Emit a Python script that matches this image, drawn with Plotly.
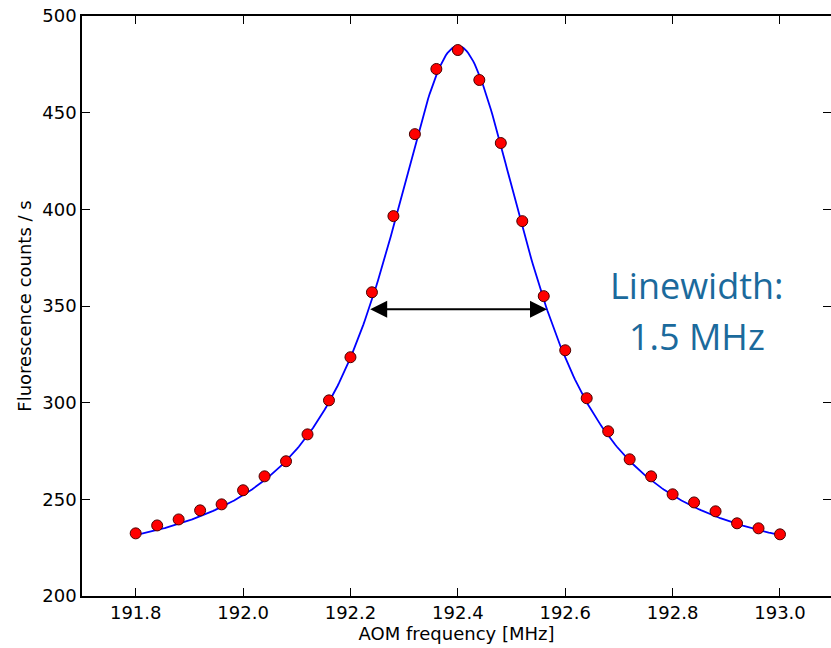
import numpy as np
import plotly.graph_objects as go

# Measured data (AOM frequency in MHz, fluorescence counts / s)
freq_mhz = [191.80, 191.84, 191.88, 191.92, 191.96, 192.00, 192.04, 192.08,
            192.12, 192.16, 192.20, 192.24, 192.28, 192.32, 192.36, 192.40,
            192.44, 192.48, 192.52, 192.56, 192.60, 192.64, 192.68, 192.72,
            192.76, 192.80, 192.84, 192.88, 192.92, 192.96, 193.00]
counts = [232.4, 236.5, 239.6, 244.3, 247.4, 254.7, 261.9, 269.7,
          283.6, 301.2, 323.5, 357.1, 396.5, 438.9, 472.6, 482.4,
          466.9, 434.3, 393.9, 355.1, 327.1, 302.3, 285.2, 270.7,
          261.9, 252.6, 248.4, 243.8, 237.6, 235.0, 231.9]

# Lorentzian fit parameters
fit_center = 192.40
fit_hwhm = 0.166
fit_offset = 212.1
fit_amplitude = 272.4

# FWHM arrow end points
fwhm_left = 192.234
fwhm_right = 192.566
half_max = fit_offset + fit_amplitude / 2

x_ticks = [191.8, 192.0, 192.2, 192.4, 192.6, 192.8, 193.0]
y_ticks = [200, 250, 300, 350, 400, 450, 500]

xfit = np.linspace(min(freq_mhz), max(freq_mhz), 400)
yfit = fit_offset + fit_amplitude / (1 + ((xfit - fit_center) / fit_hwhm) ** 2)

fig = go.Figure()
fig.add_trace(go.Scatter(x=xfit, y=yfit, mode="lines",
                         line=dict(color="#0000FF", width=1.8),
                         hoverinfo="skip", showlegend=False))
fig.add_trace(go.Scatter(x=freq_mhz, y=counts, mode="markers",
                         marker=dict(color="#FF0000", size=11,
                                     line=dict(color="#4a0000", width=1)),
                         showlegend=False))

fig.add_annotation(x=fwhm_right, y=half_max, ax=fwhm_left, ay=half_max,
                   xref="x", yref="y", axref="x", ayref="y",
                   showarrow=True, arrowhead=2, startarrowhead=2,
                   arrowside="end+start", arrowwidth=2, arrowsize=1.7,
                   startarrowsize=1.7, arrowcolor="black", text="")

text_font = dict(family="Open Sans", size=36, color="#1B6A9C")
fig.add_annotation(x=0.821, y=0.5345, xref="paper", yref="paper",
                   text="Linewidth:", showarrow=False, font=text_font,
                   xanchor="center", yanchor="middle")
fig.add_annotation(x=0.821, y=0.448, xref="paper", yref="paper",
                   text="1.5 MHz", showarrow=False, font=text_font,
                   xanchor="center", yanchor="middle")

axis_font = dict(family="DejaVu Sans", size=18, color="black")
fig.update_xaxes(range=[191.7, 193.095], tickvals=x_ticks,
                 ticktext=[f"{v:.1f}" for v in x_ticks],
                 ticks="inside", ticklen=8, tickwidth=1, tickcolor="black",
                 showline=True, linecolor="black", linewidth=1.5,
                 mirror="allticks", showgrid=False, zeroline=False,
                 tickfont=axis_font, ticklabeloverflow="allow",
                 title=dict(text="AOM frequency [MHz]", font=axis_font, standoff=4))
fig.update_yaxes(range=[200, 500], tickvals=y_ticks,
                 ticks="inside", ticklen=8, tickwidth=1, tickcolor="black",
                 showline=True, linecolor="black", linewidth=1.5,
                 mirror="allticks", showgrid=False, zeroline=False,
                 tickfont=axis_font, ticklabeloverflow="allow",
                 title=dict(text="Fluorescence counts / s", font=axis_font, standoff=6))

fig.update_layout(width=831, height=648,
                  margin=dict(l=82, r=0, t=16, b=52, autoexpand=False),
                  paper_bgcolor="white", plot_bgcolor="white")

# remove the page's default body margin so the figure sits at the window origin
fig.write_html("out.html", config={"displayModeBar": False},
               post_script="document.body.style.margin='0';document.body.style.overflow='hidden';")
